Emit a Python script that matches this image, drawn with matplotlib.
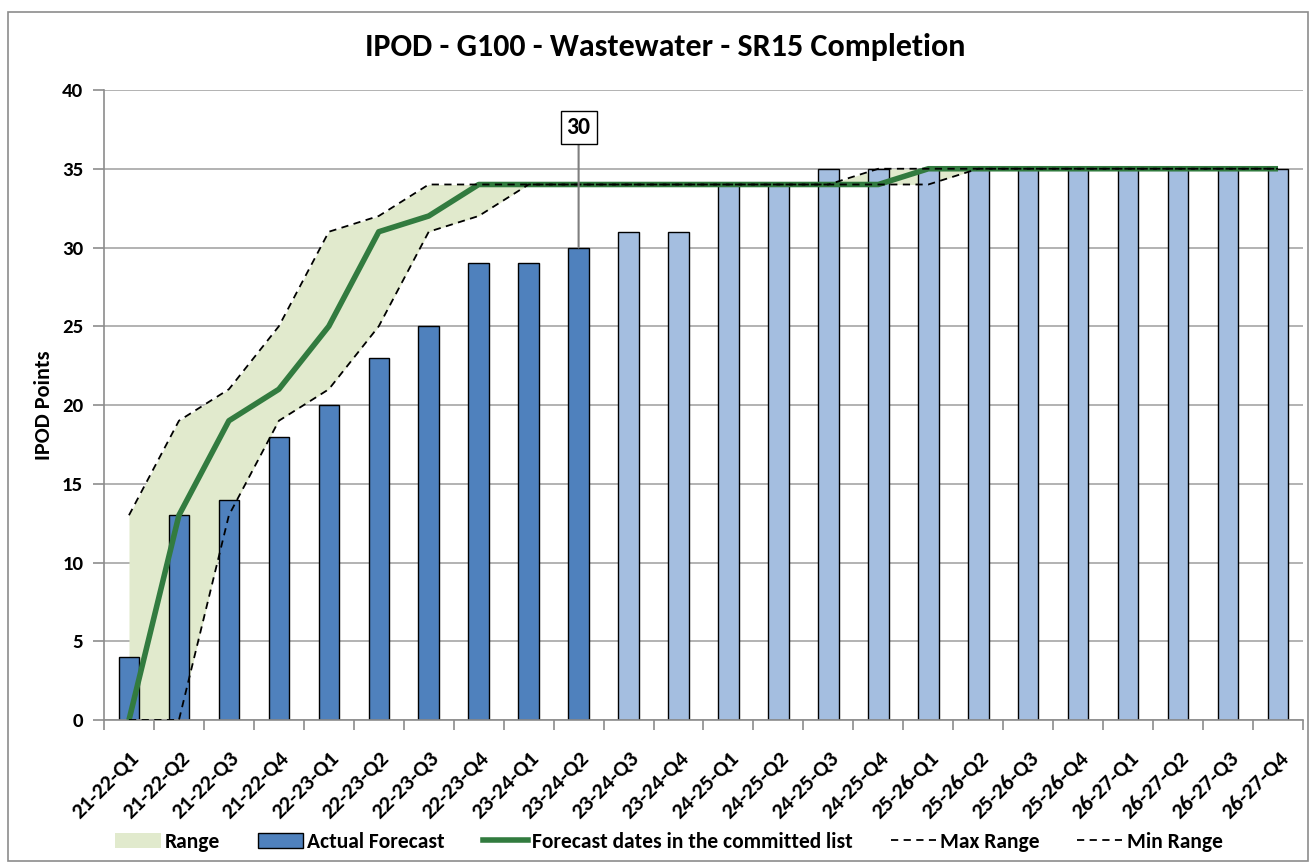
import matplotlib
matplotlib.use("Agg")
import matplotlib.pyplot as plt
import matplotlib.transforms as mtransforms
from matplotlib.lines import Line2D
from matplotlib.patches import Patch, Rectangle
import numpy as np

categories = ["21-22-Q1", "21-22-Q2", "21-22-Q3", "21-22-Q4",
              "22-23-Q1", "22-23-Q2", "22-23-Q3", "22-23-Q4",
              "23-24-Q1", "23-24-Q2", "23-24-Q3", "23-24-Q4",
              "24-25-Q1", "24-25-Q2", "24-25-Q3", "24-25-Q4",
              "25-26-Q1", "25-26-Q2", "25-26-Q3", "25-26-Q4",
              "26-27-Q1", "26-27-Q2", "26-27-Q3", "26-27-Q4"]
actual_forecast = [4, 13, 14, 18, 20, 23, 25, 29, 29, 30, 31, 31,
                   34, 34, 35, 35, 35, 35, 35, 35, 35, 35, 35, 35]
n_actual = 10  # bars up to 23-24-Q2 are actuals (dark), rest forecast (light)
committed = [0, 13, 19, 21, 25, 31, 32, 34, 34, 34, 34, 34,
             34, 34, 34, 34, 35, 35, 35, 35, 35, 35, 35, 35]
max_range = [13, 19, 21, 25, 31, 32, 34, 34, 34, 34, 34, 34,
             34, 34, 34, 35, 35, 35, 35, 35, 35, 35, 35, 35]
min_range = [0, 0, 13, 19, 21, 25, 31, 32, 34, 34, 34, 34,
             34, 34, 34, 34, 34, 35, 35, 35, 35, 35, 35, 35]
annot_idx = 9
annot_text = "30"

plt.rcParams['font.family'] = ['Carlito', 'DejaVu Sans']
plt.rcParams['font.weight'] = 'bold'

fig = plt.figure(figsize=(13.09, 8.64), dpi=100)
fig.patches.append(Rectangle((8/1309, 1 - 861/864), 1300/1309, 849/864,
                             transform=fig.transFigure, fill=False,
                             edgecolor='#8c8c8c', linewidth=1.2, zorder=0))
ax = fig.add_axes([104/1309, 1 - 720/864, 1199/1309, 630/864])

x = np.arange(len(categories))
dark = '#4F81BD'
light = '#A4BEE0'
range_col = '#E1EACD'
green = '#327B3F'
colors = [dark if i < n_actual else light for i in range(len(categories))]

ax.fill_between(x, min_range, max_range, color=range_col, zorder=1, linewidth=0)
ax.bar(x, actual_forecast, width=0.41, color=colors, edgecolor='black',
       linewidth=1.0, zorder=2)
ax.plot(x, committed, color=green, linewidth=4, zorder=3,
        solid_capstyle='butt', solid_joinstyle='round')
ax.plot(x, max_range, color='black', linewidth=1.3, linestyle=(0, (4, 3)), zorder=4)
ax.plot(x, min_range, color='black', linewidth=1.3, linestyle=(0, (4, 3)), zorder=4)

ax.set_xlim(-0.5, len(categories) - 0.5)
ax.set_ylim(0, 40)
ax.set_yticks(np.arange(0, 41, 5))
ax.yaxis.grid(True, color='#A6A6A6', linewidth=1.2)
ax.set_axisbelow(True)
for s in ['top', 'right']:
    ax.spines[s].set_visible(False)
for s in ['left', 'bottom']:
    ax.spines[s].set_color('#8c8c8c')
    ax.spines[s].set_linewidth(1.2)

ax.set_xticks(x)
ax.set_xticklabels(categories, rotation=45, ha='right', va='center',
                   rotation_mode='anchor', fontsize=16, fontweight='bold')
ax.tick_params(axis='x', which='major', length=0, pad=25)
offset = mtransforms.ScaledTranslation(7/100, 0, fig.dpi_scale_trans)
for lab in ax.get_xticklabels():
    lab.set_transform(lab.get_transform() + offset)
ax.set_xticks(np.arange(-0.5, len(categories), 1), minor=True)
ax.tick_params(axis='x', which='minor', length=7, color='#8c8c8c', width=1.2)
ax.tick_params(axis='y', length=8, color='#8c8c8c', width=1.2, labelsize=15, pad=7)
for lab in ax.get_yticklabels():
    lab.set_fontweight('bold')

ax.set_ylabel("IPOD Points", fontsize=16, fontweight='bold', va='center')
ax.yaxis.set_label_coords(-60/1199, 0.5)
fig.text(665/1309, 1 - 47/864, "IPOD - G100 - Wastewater - SR15 Completion",
         ha='center', va='center', fontsize=23, fontweight='bold')

# annotation box
ax.annotate(annot_text, xy=(annot_idx, actual_forecast[annot_idx]),
            xytext=(annot_idx, 37.6), ha='center', va='center',
            fontsize=17, fontweight='bold',
            bbox=dict(boxstyle='square,pad=0.25', fc='white', ec='black', lw=1),
            arrowprops=dict(arrowstyle='-', color='#7f7f7f', lw=1.5,
                            shrinkA=0, shrinkB=0), zorder=5)

handles = [Patch(facecolor=range_col, edgecolor='none', label='Range'),
           Patch(facecolor=dark, edgecolor='black', label='Actual Forecast'),
           Line2D([0], [0], color=green, lw=4, label='Forecast dates in the committed list'),
           Line2D([0], [0], color='black', lw=1.3, linestyle=(0, (4, 3)), label='Max Range'),
           Line2D([0], [0], color='black', lw=1.3, linestyle=(0, (4, 3)), label='Min Range')]
fig.legend(handles=handles, loc='center', bbox_to_anchor=(669/1309, 1 - 842/864),
           ncol=5, frameon=False, handlelength=2.1, handleheight=0.7,
           handletextpad=0.2, columnspacing=1.75, prop={'weight': 'bold', 'size': 15.5})

fig.savefig("out.png", dpi=100)
